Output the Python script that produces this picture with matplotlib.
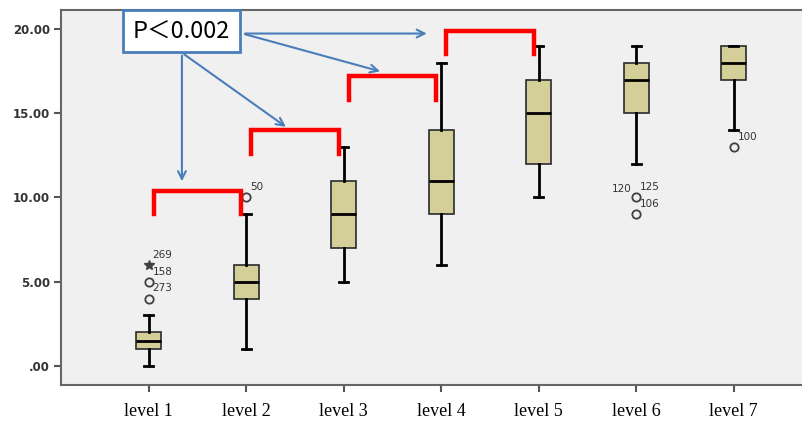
import matplotlib.pyplot as plt

# box plot values
levels = ["level 1", "level 2", "level 3", "level 4", "level 5", "level 6", "level 7"]
whisker_low = [0, 1, 5, 6, 10, 12, 14]
q1 = [1, 4, 7, 9, 12, 15, 17]
median = [1.5, 5, 9, 11, 15, 17, 18]
q3 = [2, 6, 11, 14, 17, 18, 19]
whisker_high = [3, 9, 13, 18, 19, 19, 19]
outliers = [[4, 5], [10], [], [], [], [10, 9], [13]]
extremes = [[6], [], [], [], [], [], []]

# case labels next to outliers: (level index, y, text, side)
case_labels = [
    (0, 6.6, "269", "r"), (0, 5.6, "158", "r"), (0, 4.6, "273", "r"),
    (1, 10.6, "50", "r"),
    (5, 10.5, "120", "l"), (5, 10.6, "125", "r"), (5, 9.6, "106", "r"),
    (6, 13.6, "100", "r"),
]

# significance brackets between neighbouring levels
brackets = [(1, 2, 10.4), (2, 3, 14.0), (3, 4, 17.2), (4, 5, 19.9)]

fig = plt.figure(figsize=(8.03, 4.22), dpi=100)
ax = fig.add_axes([0.076, 0.088, 0.93, 0.888])
ax.set_facecolor("#f0f0f0")

stats = []
for i in range(len(levels)):
    stats.append({"whislo": whisker_low[i], "q1": q1[i], "med": median[i],
                  "q3": q3[i], "whishi": whisker_high[i], "fliers": outliers[i]})

pos = list(range(1, len(levels) + 1))
ax.bxp(stats, positions=pos, widths=0.26, patch_artist=True,
       boxprops=dict(facecolor="#d4cf98", edgecolor="#2a2a2a", linewidth=1.2),
       medianprops=dict(color="black", linewidth=2),
       whiskerprops=dict(color="black", linewidth=2),
       capprops=dict(color="black", linewidth=2),
       capwidths=0.09,
       flierprops=dict(marker="o", markerfacecolor="none", markeredgecolor="#404040",
                       markersize=6, markeredgewidth=1.3))

for i, ys in enumerate(extremes):
    for y in ys:
        ax.plot(pos[i], y, marker="*", color="#404040", markersize=7, linestyle="none")

for i, y, txt, side in case_labels:
    if side == "r":
        ax.text(pos[i] + 0.04, y, txt, fontsize=7.5, color="#333333", va="center", ha="left")
    else:
        ax.text(pos[i] - 0.05, y, txt, fontsize=7.5, color="#333333", va="center", ha="right")

for a, b, y in brackets:
    xa, xb = a + 0.05, b - 0.05
    ax.plot([xa, xa, xb, xb], [y - 1.4, y, y, y - 1.4], color="red", linewidth=3.2,
            solid_joinstyle="miter")

# p-value box with arrows pointing at the brackets
blue = "#4a7ebb"
ax.text(1.335, 19.9, "P\uff1c0.002", fontsize=17, ha="center", va="center",
        family=["Noto Sans CJK JP", "DejaVu Sans"], zorder=5,
        bbox=dict(boxstyle="square,pad=0.4", facecolor="white", edgecolor=blue, linewidth=2))
arrows = [((1.34, 18.6), (1.34, 10.8)), ((1.34, 18.6), (2.43, 14.1)),
          ((1.96, 19.74), (3.40, 17.45)), ((1.96, 19.74), (3.88, 19.74))]
for start, end in arrows:
    ax.annotate("", xy=end, xytext=start,
                arrowprops=dict(arrowstyle="->", color=blue, linewidth=1.5, mutation_scale=14))

ax.set_xlim(0.1, 7.76)
ax.set_ylim(-1.13, 21.13)
ax.set_yticks([0, 5, 10, 15, 20])
ax.set_yticklabels([".00", "5.00", "10.00", "15.00", "20.00"], fontsize=8.5,
                   fontweight="bold", color="#333333")
ax.set_xticks(pos)
ax.set_xticklabels(levels, fontsize=13, family="Liberation Serif")
ax.tick_params(axis="x", length=5, width=1.5, color="#555555", pad=8)
ax.tick_params(axis="y", length=5, width=1.5, color="#555555", pad=3)
for s in ["left", "bottom", "top"]:
    ax.spines[s].set_color("#666666")
    ax.spines[s].set_linewidth(1.5)
ax.spines["right"].set_visible(False)

fig.savefig("out.png", dpi=100)
